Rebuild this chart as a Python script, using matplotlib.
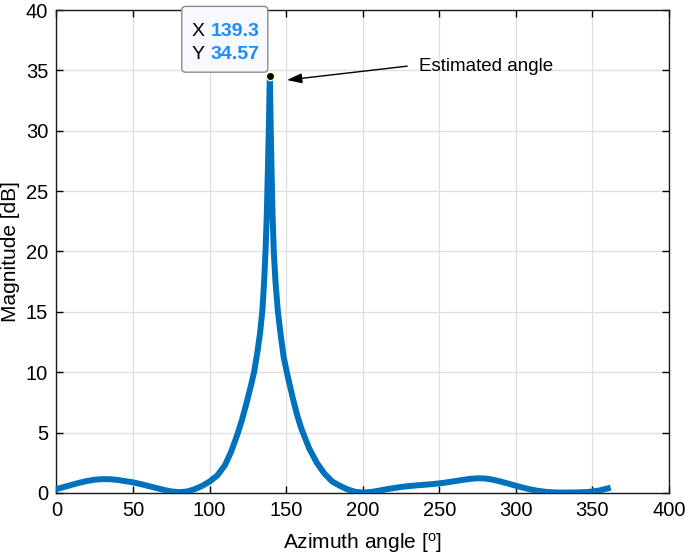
import matplotlib
matplotlib.use('Agg')
import matplotlib.pyplot as plt
from matplotlib.patches import FancyBboxPatch

# spectrum (azimuth in deg, magnitude in dB)
azimuth = [0, 5, 10, 15, 20, 25, 30, 35, 40, 45, 50, 55, 60, 65, 70, 75, 80, 85,
           90, 95, 100, 105, 110, 114, 118, 121, 124, 127, 129, 131, 133, 134.5,
           135.5, 136.5, 137.3, 138.0, 138.7, 139.3, 139.8, 140.4, 141.1, 141.9,
           143.0, 144.6, 146.5, 148.3, 150.4, 152.5, 155, 157.5, 160, 165, 170,
           175, 180, 185, 190, 195, 200, 205, 210, 215, 220, 225, 230, 235, 240,
           245, 250, 255, 260, 265, 270, 275, 280, 285, 290, 295, 300, 305, 310,
           315, 320, 325, 330, 335, 340, 345, 350, 355, 360]
magnitude = [0.33, 0.5, 0.68, 0.85, 1.0, 1.1, 1.15, 1.14, 1.08, 0.98, 0.88, 0.74,
             0.58, 0.42, 0.26, 0.13, 0.07, 0.12, 0.3, 0.58, 0.95, 1.45, 2.3, 3.4,
             4.8, 6.0, 7.4, 8.9, 10.0, 11.5, 13.3, 15.2, 17.3, 20.0, 23.0, 26.5,
             30.5, 34.57, 31.0, 27.0, 23.0, 20.0, 17.5, 15.0, 13.0, 11.3, 10.0,
             8.85, 7.5, 6.3, 5.3, 3.7, 2.5, 1.6, 0.96, 0.6, 0.3, 0.1, 0.04, 0.08,
             0.18, 0.3, 0.4, 0.5, 0.57, 0.63, 0.68, 0.73, 0.8, 0.88, 0.98, 1.08,
             1.17, 1.22, 1.2, 1.1, 0.95, 0.78, 0.6, 0.43, 0.28, 0.17, 0.09, 0.05,
             0.04, 0.04, 0.05, 0.07, 0.12, 0.22, 0.38]
peak_x, peak_y = 139.3, 34.57

plt.rcParams['font.family'] = ['Liberation Sans', 'DejaVu Sans']

fig = plt.figure(figsize=(6.85, 5.58), dpi=100)
ax = fig.add_axes([56.5 / 685, 65 / 558, (669 - 56.5) / 685, (493 - 10) / 558])

ax.plot(azimuth, magnitude, color='#0072BD', lw=4.3, solid_joinstyle='round', zorder=3)
ax.plot([peak_x], [peak_y], 'o', ms=6, mfc='black', mec='#FFFFC0', mew=1, zorder=5)

ax.set_xlim(0, 400)
ax.set_ylim(0, 40)
ax.set_xticks(range(0, 401, 50))
ax.set_yticks(range(0, 41, 5))
ax.grid(True, color='#DEDEDE', lw=0.9)
ax.set_axisbelow(True)
ax.tick_params(direction='in', top=True, right=True, labelsize=14.5, length=5, width=1, pad=6)
for s in ax.spines.values():
    s.set_linewidth(1)
    s.set_color('#1A1A1A')

ax.set_xlabel('Azimuth angle [$\\mathregular{^o}$]', fontsize=15, labelpad=8)
ax.set_ylabel('Magnitude [dB]', fontsize=15, labelpad=4)

# data tip box (rounded, sits partly above the axes)
tip = FancyBboxPatch((81.8, 34.85), 56.2, 5.45,
                     boxstyle='round,pad=0,rounding_size=2.6', mutation_aspect=0.127,
                     fc='#F8F8FF', ec='#8C8C8C', lw=1, clip_on=False, zorder=6)
ax.add_patch(tip)
ax.text(88.5, 38.25, 'X', fontsize=14, ha='left', va='center', zorder=7, clip_on=False)
ax.text(100.5, 38.25, '%.1f' % peak_x, fontsize=14, ha='left', va='center',
        color='#1A8CFF', fontweight='bold', zorder=7, clip_on=False)
ax.text(88.5, 36.35, 'Y', fontsize=14, ha='left', va='center', zorder=7)
ax.text(100.5, 36.35, '%.2f' % peak_y, fontsize=14, ha='left', va='center',
        color='#1A8CFF', fontweight='bold', zorder=7)

ax.annotate('', xy=(150.5, 34.2), xytext=(229, 35.35),
            arrowprops=dict(arrowstyle='-|>,head_length=0.9,head_width=0.3',
                            color='black', lw=1, shrinkA=0, shrinkB=0))
ax.text(236.5, 35.35, 'Estimated angle', fontsize=13.5, ha='left', va='center')

fig.savefig('out.png', dpi=100)
